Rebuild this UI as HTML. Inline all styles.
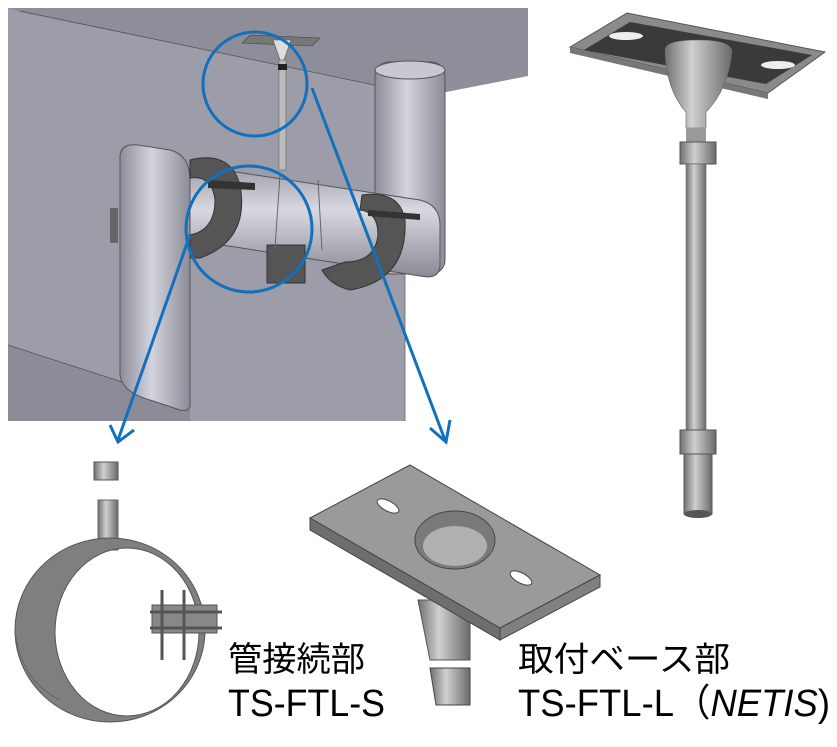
<!DOCTYPE html>
<html><head><meta charset="utf-8"><style>
html,body{margin:0;padding:0;background:#fff;width:837px;height:747px;overflow:hidden}
svg{display:block}
text{font-family:"Liberation Sans","Noto Sans CJK JP",sans-serif}
</style></head><body>
<svg width="837" height="747" viewBox="0 0 837 747" xmlns="http://www.w3.org/2000/svg">
<defs>
<linearGradient id="pv" x1="0" x2="1" y1="0" y2="0"><stop offset="0" stop-color="#8d8d9a"/><stop offset="0.45" stop-color="#d4d4de"/><stop offset="1" stop-color="#8c8c98"/></linearGradient>
<linearGradient id="ph" x1="0" x2="0" y1="0" y2="1"><stop offset="0" stop-color="#9c9ca8"/><stop offset="0.4" stop-color="#d8d8e0"/><stop offset="1" stop-color="#8a8a96"/></linearGradient>
<linearGradient id="mt" x1="0" x2="1"><stop offset="0" stop-color="#707070"/><stop offset="0.4" stop-color="#d0d0d0"/><stop offset="1" stop-color="#6a6a6a"/></linearGradient>
</defs>
<rect x="8" y="8" width="520" height="413" fill="#9d9daa"/>
<polygon points="8,8 528,8 528,76 446,100 20,12" fill="#8e8e9a"/>
<line x1="20" y1="11" x2="446" y2="100" stroke="#555" stroke-width="0.8"/>
<polygon points="405,100 528,76 528,421 405,421" fill="#fff"/>
<polygon points="8,345 190,404 190,421 8,421" fill="#8c8c98"/>
<line x1="8" y1="345" x2="190" y2="404" stroke="#555" stroke-width="0.8"/>
<line x1="405" y1="100" x2="405" y2="421" stroke="#666" stroke-width="0.8"/>
<rect x="375" y="62" width="70" height="212" rx="14" fill="url(#pv)" stroke="#555"/>
<ellipse cx="410" cy="70" rx="35" ry="9" fill="#c8c8d2" stroke="#555"/>
<polygon points="250,35 320,38 312,46 242,43" fill="#777" stroke="#444" stroke-width="0.6"/>
<path d="M273,40 L291,40 L284,60 L280,60 Z" fill="#ddd" stroke="#555" stroke-width="0.6"/>
<rect x="279" y="60" width="7" height="110" fill="#bbb" stroke="#666" stroke-width="0.6"/>
<rect x="278" y="64" width="9" height="6" fill="#222"/>
<path d="M190,165 L420,200 Q440,205 440,225 L440,265 Q440,280 420,276 L190,240 Z" fill="url(#ph)" stroke="#555"/>
<path d="M120,155 Q122,143 138,145 L170,150 Q190,155 190,180 L190,405 Q190,412 180,410 L150,400 Q122,392 120,375 Z" fill="url(#pv)" stroke="#555"/>
<rect x="110" y="208" width="8" height="35" fill="#666"/>
<path d="M190,160 Q230,150 240,185 Q250,240 200,258 L190,258 L190,235 Q215,230 215,200 Q212,175 190,178 Z" fill="#555" stroke="#333"/>
<path d="M208,180 L255,183 L255,190 L208,188 Z" fill="#333"/>
<path d="M362,195 Q400,190 405,220 Q408,280 350,290 Q330,285 322,270 L345,262 Q375,262 378,235 Q378,212 360,210 Z" fill="#555" stroke="#333"/>
<path d="M368,210 L420,214 L420,220 L368,216 Z" fill="#333"/>
<rect x="267" y="245" width="38" height="38" fill="#555" stroke="#333"/>
<line x1="280" y1="175" x2="275" y2="248" stroke="#666"/>
<line x1="318" y1="180" x2="322" y2="250" stroke="#666"/>
<g stroke="#1270bd" stroke-width="3" fill="none">
<circle cx="255" cy="84" r="52"/>
<circle cx="249" cy="229" r="63"/>
<line x1="190" y1="235" x2="118" y2="440"/>
<polyline points="110,425 118,442 134,430"/>
<line x1="312" y1="88" x2="445" y2="440"/>
<polyline points="430,428 446,442 450,420"/>
</g>
<polygon points="570,47 627,13 825,52 768,93" fill="#8a8a8a" stroke="#555"/>
<polygon points="584,50 630,22 812,55 766,84" fill="#3a3a3a"/>
<polygon points="570,47 768,93 768,99 570,53" fill="#777"/>
<ellipse cx="626" cy="36" rx="17" ry="4" fill="#eee"/>
<ellipse cx="778" cy="65" rx="17" ry="4" fill="#eee"/>
<path d="M665,50 Q665,40 698,40 Q732,40 732,52 Q728,90 706,112 L706,128 L686,128 L686,112 Q666,90 665,50 Z" fill="url(#mt)" stroke="#666" stroke-width="0.6"/>
<rect x="686" y="128" width="20" height="14" fill="#999"/>
<rect x="680" y="142" width="36" height="22" fill="url(#mt)" stroke="#555"/>
<rect x="686" y="164" width="20" height="266" fill="url(#mt)" stroke="#666" stroke-width="0.6"/>
<rect x="680" y="430" width="36" height="24" fill="url(#mt)" stroke="#555"/>
<rect x="684" y="454" width="28" height="60" fill="url(#mt)" stroke="#555"/>
<ellipse cx="698" cy="514" rx="14" ry="4" fill="#555"/>
<!-- ring -->
<rect x="94" y="462" width="24" height="18" fill="url(#mt)" stroke="#555"/>
<rect x="98" y="500" width="20" height="50" fill="url(#mt)" stroke="#666"/>
<path fill-rule="evenodd" fill="#7f7f7f" stroke="#555" d="M15,630 A95,92 0 1,0 205,630 A95,92 0 1,0 15,630 Z M55,632 A72,84 0 1,0 199,632 A72,84 0 1,0 55,632 Z"/>
<path d="M15,630 Q20,680 60,700" fill="none" stroke="#666"/>
<rect x="152" y="605" width="65" height="28" fill="#888" stroke="#555"/>
<line x1="162" y1="590" x2="162" y2="660" stroke="#555" stroke-width="3"/>
<line x1="184" y1="590" x2="184" y2="660" stroke="#555" stroke-width="3"/>
<line x1="150" y1="612" x2="222" y2="612" stroke="#555" stroke-width="3"/>
<line x1="150" y1="628" x2="222" y2="628" stroke="#555" stroke-width="3"/>
<!-- plate -->
<path d="M418,600 L470,600 L470,660 L430,660 Z" fill="url(#mt)" stroke="#555"/>
<polygon points="430,668 470,668 470,705 436,705" fill="url(#mt)" stroke="#444"/>
<polygon points="310,518 410,465 600,575 500,628" fill="#9a9a9a" stroke="#444"/>
<polygon points="310,518 500,628 500,640 310,530" fill="#6e6e6e" stroke="#444"/>
<polygon points="500,628 600,575 600,587 500,640" fill="#808080" stroke="#444"/>
<ellipse cx="455" cy="540" rx="40" ry="29" fill="#7a7a7a" stroke="#444"/>
<ellipse cx="455" cy="546" rx="32" ry="20" fill="#b0b0b0"/>
<ellipse cx="388" cy="506" rx="12" ry="5" transform="rotate(28 388 506)" fill="#fff" stroke="#444"/>
<ellipse cx="521" cy="578" rx="12" ry="5" transform="rotate(28 521 578)" fill="#fff" stroke="#444"/>
<text x="228" y="671" font-size="34" textLength="137" lengthAdjust="spacingAndGlyphs" fill="#000">管接続部</text>
<text x="228" y="716" font-size="38" textLength="157" lengthAdjust="spacingAndGlyphs" fill="#000">TS-FTL-S</text>
<text x="518" y="671" font-size="34" textLength="212" lengthAdjust="spacingAndGlyphs" fill="#000">取付ベース部</text>
<text x="518" y="716" font-size="38" textLength="312" lengthAdjust="spacingAndGlyphs" fill="#000">TS-FTL-L（<tspan font-style="italic">NETIS</tspan>)</text>
</svg>
</body></html>
